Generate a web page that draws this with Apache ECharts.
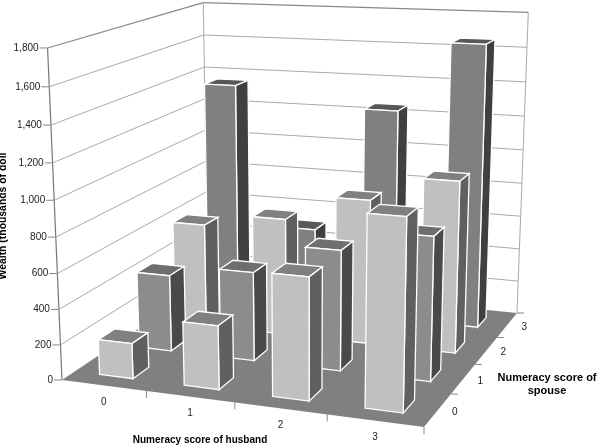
<!DOCTYPE html>
<html>
<head>
<meta charset="utf-8">
<style>html,body{margin:0;padding:0;background:#fff}#chart{width:600px;height:445px}</style>
<script src="https://cdn.jsdelivr.net/npm/echarts@6/dist/echarts.min.js"></script>
</head>
<body>
<div id="chart"></div>
<script>
// values, one list per spouse score, husband score 0..3
const husbandScores = ["0", "1", "2", "3"];
const spouseScores = ["0", "1", "2", "3"];
const wealthSpouse0 = [200, 355, 670, 1025];
const wealthSpouse1 = [444, 509, 680, 800];
const wealthSpouse2 = [615, 690, 840, 985];
const wealthSpouse3 = [1356, 506, 1256, 1660];
const wealthTicks = [0, 200, 400, 600, 800, 1000, 1200, 1400, 1600, 1800];
const wealthLabels = ["0", "200", "400", "600", "800", "1,000", "1,200", "1,400", "1,600", "1,800"];
const wealthBySpouse = [wealthSpouse0, wealthSpouse1, wealthSpouse2, wealthSpouse3];

const Z_MAX = 1800;
const BAR_GAP = 0.3;

// camera calibration: the floor and wall corners of the box on screen
const floorCorners = [[62, 380], [424, 427], [517, 313], [208, 282]];
const wallTops = [[0, 0, [47, 47]], [0, 1, [204, 0]], [1, 1, [528, 16]]];

function floorHomography(q) {
  const dx1 = q[1][0] - q[2][0], dx2 = q[3][0] - q[2][0], sx = q[0][0] - q[1][0] + q[2][0] - q[3][0];
  const dy1 = q[1][1] - q[2][1], dy2 = q[3][1] - q[2][1], sy = q[0][1] - q[1][1] + q[2][1] - q[3][1];
  const den = dx1 * dy2 - dx2 * dy1;
  const g = (sx * dy2 - dx2 * sy) / den, h = (dx1 * sy - sx * dy1) / den;
  return [
    [q[1][0] - q[0][0] + g * q[1][0], q[3][0] - q[0][0] + h * q[3][0], q[0][0]],
    [q[1][1] - q[0][1] + g * q[1][1], q[3][1] - q[0][1] + h * q[3][1], q[0][1]],
    [g, h, 1],
  ];
}

function solve3(m, b) {
  const a = m.map((r, i) => r.concat(b[i]));
  for (let i = 0; i < 3; i++) {
    let p = i;
    for (let r = i + 1; r < 3; r++) if (Math.abs(a[r][i]) > Math.abs(a[p][i])) p = r;
    [a[i], a[p]] = [a[p], a[i]];
    for (let r = 0; r < 3; r++) {
      if (r === i) continue;
      const f = a[r][i] / a[i][i];
      for (let c = i; c < 4; c++) a[r][c] -= f * a[i][c];
    }
  }
  return a.map((r, i) => r[3] / r[i]);
}

const H = floorHomography(floorCorners);

// vertical column of the projection, least squares over the wall top corners
function verticalColumn() {
  const rows = [], rhs = [];
  wallTops.forEach(([u, v, p]) => {
    const X = H[0][0] * u + H[0][1] * v + H[0][2];
    const Y = H[1][0] * u + H[1][1] * v + H[1][2];
    const W = H[2][0] * u + H[2][1] * v + H[2][2];
    rows.push([1, 0, -p[0]]); rhs.push(p[0] * W - X);
    rows.push([0, 1, -p[1]]); rhs.push(p[1] * W - Y);
  });
  const ata = [0, 1, 2].map((i) => [0, 1, 2].map((j) => rows.reduce((s, r) => s + r[i] * r[j], 0)));
  const atb = [0, 1, 2].map((i) => rows.reduce((s, r, k) => s + r[i] * rhs[k], 0));
  return solve3(ata, atb);
}
const V = verticalColumn();

// husband and spouse in cells 0..4, wealth in thousands of dollars
function project(h, s, z) {
  const u = h / 4, v = s / 4, t = z / Z_MAX;
  const X = H[0][0] * u + H[0][1] * v + H[0][2] + V[0] * t;
  const Y = H[1][0] * u + H[1][1] * v + H[1][2] + V[1] * t;
  const W = H[2][0] * u + H[2][1] * v + H[2][2] + V[2] * t;
  return [X / W, Y / W];
}

const barData = [];
for (let s = 3; s >= 0; s--) {
  for (let h = 0; h < 4; h++) barData.push([h, s, wealthBySpouse[s][h]]);
}

// face colours per spouse row
const ROW_COLORS = [
  { front: "#c0c0c0", top: "#808080", side: "#606060" },
  { front: "#8c8c8c", top: "#6e6e6e", side: "#4a4a4a" },
  { front: "#c0c0c0", top: "#808080", side: "#606060" },
  { front: "#808080", top: "#585858", side: "#404040" },
];

function poly(api, pts, fill, stroke, lw) {
  return {
    type: "polygon",
    shape: { points: pts.map((p) => api.coord(project(p[0], p[1], p[2]))) },
    style: { fill: fill, stroke: stroke || null, lineWidth: lw || 0 },
  };
}

function seg(api, a, b, color, lw) {
  const p = api.coord(project(a[0], a[1], a[2]));
  const q = api.coord(project(b[0], b[1], b[2]));
  return {
    type: "line",
    shape: { x1: p[0], y1: p[1], x2: q[0], y2: q[1] },
    style: { stroke: color, lineWidth: lw || 1 },
  };
}

function label(x, y, text, align, font) {
  return {
    type: "text",
    x: x,
    y: y,
    style: {
      text: text,
      fill: font ? "#000" : "#222",
      font: (font || "10px") + " 'Liberation Sans', Arial, sans-serif",
      textAlign: align || "center",
      textVerticalAlign: "middle",
    },
  };
}

const option = {
  animation: false,
  backgroundColor: "#fff",
  grid: { left: 0, right: 0, top: 0, bottom: 0 },
  xAxis: { type: "value", min: 0, max: 600, show: false },
  yAxis: { type: "value", min: 0, max: 445, inverse: true, show: false },
  series: [
    {
      // floor and box edges
      type: "custom",
      silent: true,
      data: [[0]],
      renderItem: (params, api) => ({
        type: "group",
        children: [
          poly(api, [[0, 0, 0], [4, 0, 0], [4, 4, 0], [0, 4, 0]], "#808080"),
          seg(api, [0, 0, 0], [0, 0, Z_MAX], "#777777", 1.2),
          seg(api, [0, 0, Z_MAX], [0, 4, Z_MAX], "#888888", 1.2),
          seg(api, [0, 4, Z_MAX], [4, 4, Z_MAX], "#888888", 1.2),
          seg(api, [0, 4, 0], [0, 4, Z_MAX], "#aaaaaa", 1),
          seg(api, [4, 4, 0], [4, 4, Z_MAX], "#aaaaaa", 1),
        ],
      }),
    },
    {
      // gridlines on both walls, with the tick and label on the left edge
      type: "custom",
      silent: true,
      data: wealthTicks.map((t, i) => [t, i]),
      renderItem: (params, api) => {
        const t = api.value(0);
        const p = api.coord(project(0, 0, t));
        const children = [label(p[0] - 9, p[1], wealthLabels[api.value(1)], "right")];
        children.push({
          type: "line",
          shape: { x1: p[0] - 8, y1: p[1], x2: p[0], y2: p[1] },
          style: { stroke: "#888888", lineWidth: 1 },
        });
        if (t > 0 && t < Z_MAX) {
          children.push(seg(api, [0, 0, t], [0, 4, t], "#aaaaaa", 1));
          children.push(seg(api, [0, 4, t], [4, 4, t], "#aaaaaa", 1));
        }
        return { type: "group", children: children };
      },
    },
    {
      // ticks and labels along the two floor edges
      type: "custom",
      silent: true,
      data: husbandScores.map((t, i) => [i, t]),
      renderItem: (params, api) => {
        const i = api.value(0);
        const tick = api.coord(project(i + 1, 0, 0));
        const side = api.coord(project(4, i + 1, 0));
        const sideLabel = api.coord(project(4, i + 0.5, 0));
        const under = api.coord(project(i + 0.5, 0, 0));
        return {
          type: "group",
          children: [
            { type: "line", shape: { x1: tick[0], y1: tick[1], x2: tick[0], y2: tick[1] + 7 }, style: { stroke: "#888888", lineWidth: 1 } },
            { type: "line", shape: { x1: side[0], y1: side[1], x2: side[0] + 7, y2: side[1] }, style: { stroke: "#888888", lineWidth: 1 } },
            label(under[0], under[1] + 17, husbandScores[i]),
            label(sideLabel[0] + 17, sideLabel[1] + 2, spouseScores[i]),
          ],
        };
      },
    },
    {
      // the bars, back row first
      type: "custom",
      silent: true,
      data: barData,
      renderItem: (params, api) => {
        const h = api.value(0), s = api.value(1), z = api.value(2);
        const c = ROW_COLORS[s];
        const x0 = h + BAR_GAP, x1 = h + 1 - BAR_GAP;
        const y0 = s + BAR_GAP, y1 = s + 1 - BAR_GAP;
        return {
          type: "group",
          children: [
            poly(api, [[x0, y0, z], [x1, y0, z], [x1, y1, z], [x0, y1, z]], c.top, "#fff", 1.3),
            poly(api, [[x1, y0, 0], [x1, y1, 0], [x1, y1, z], [x1, y0, z]], c.side, "#fff", 1.3),
            poly(api, [[x0, y0, 0], [x1, y0, 0], [x1, y0, z], [x0, y0, z]], c.front, "#fff", 1.3),
          ],
        };
      },
    },
    {
      // axis titles
      type: "custom",
      silent: true,
      data: [[0]],
      renderItem: () => ({
        type: "group",
        children: [
          label(200, 440, "Numeracy score of husband", "center", "bold 10px"),
          label(547, 378, "Numeracy score of", "center", "bold 11px"),
          label(547, 391, "spouse", "center", "bold 11px"),
          Object.assign(label(3, 216, "Wealth (thousands of doll", "center", "bold 10.4px"), { rotation: Math.PI / 2 }),
        ],
      }),
    },
  ],
};

const chart = echarts.init(document.getElementById("chart"));
chart.setOption(option);
</script>
</body>
</html>
